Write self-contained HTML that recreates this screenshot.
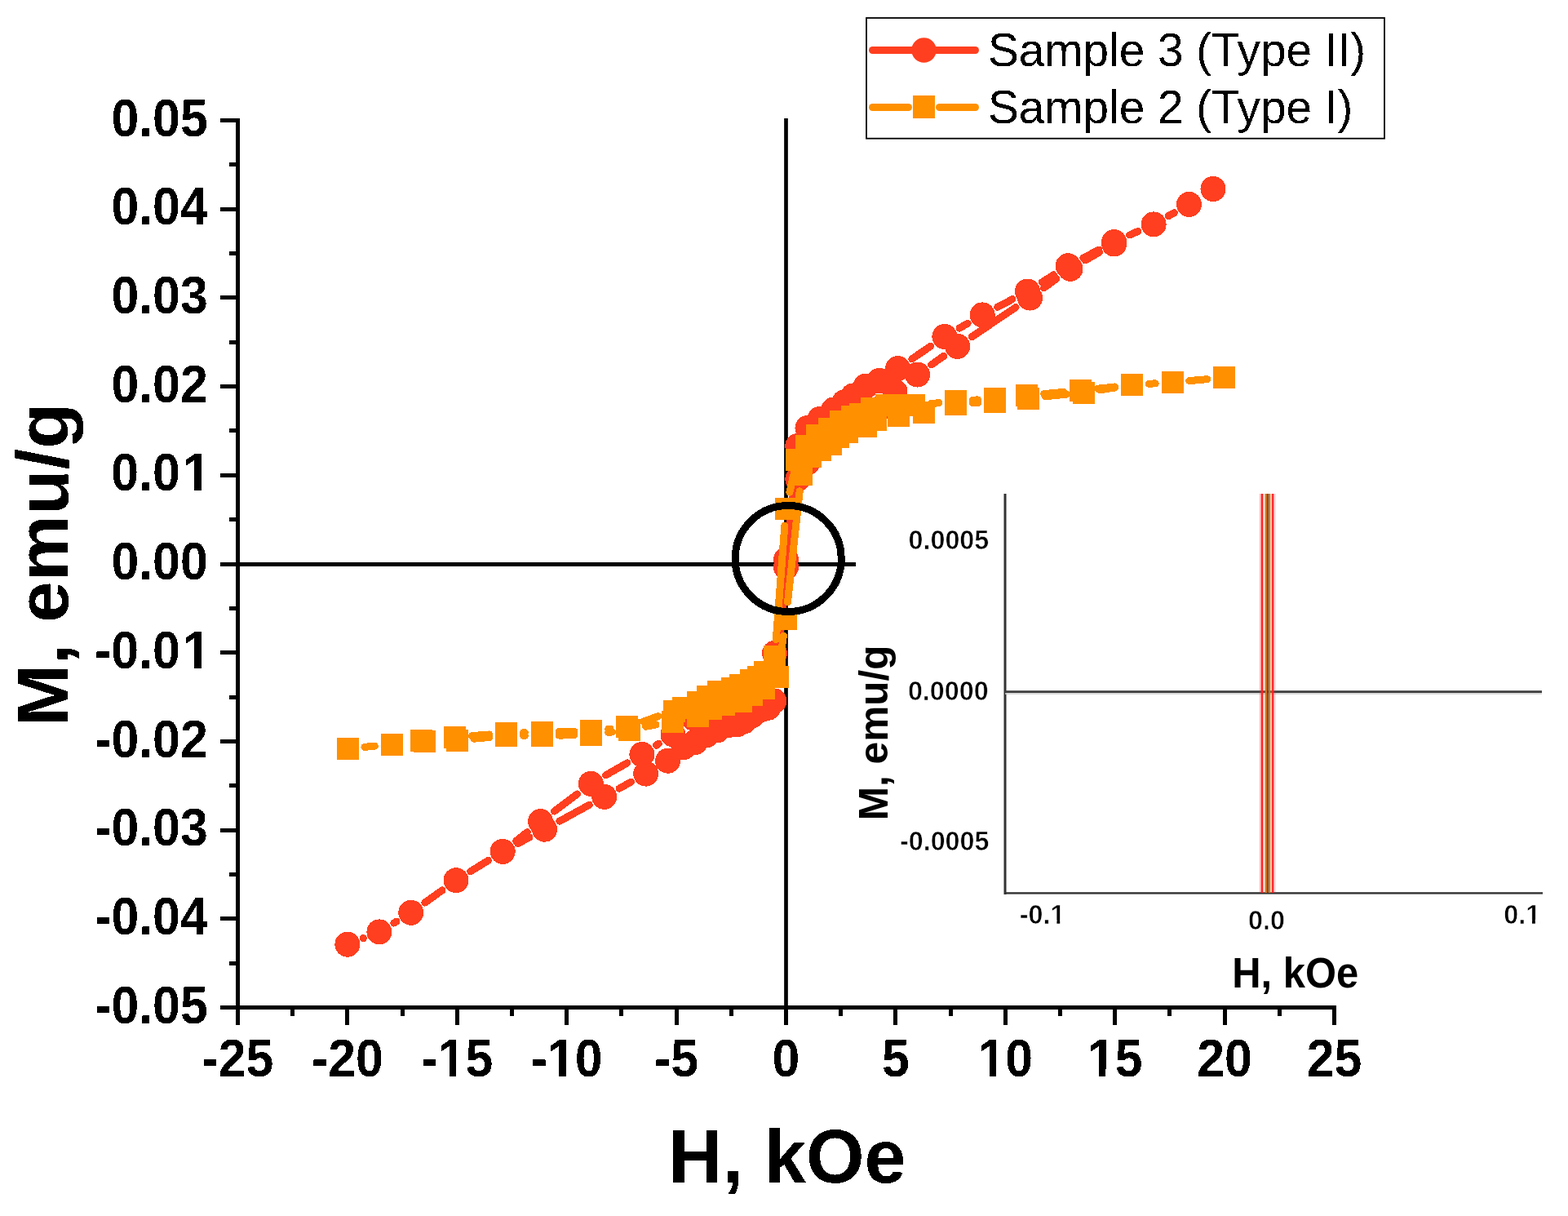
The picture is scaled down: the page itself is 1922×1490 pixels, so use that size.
<!DOCTYPE html><html><head><meta charset="utf-8"><style>html,body{margin:0;padding:0;background:#fff;}svg{display:block}text{font-family:"Liberation Sans",Arial,sans-serif}</style></head><body>
<svg width="1922" height="1490" viewBox="0 0 1922 1490">
<defs><filter id="bin" color-interpolation-filters="sRGB"><feComponentTransfer><feFuncA type="discrete" tableValues="0 1"/></feComponentTransfer></filter><filter id="soft"><feGaussianBlur stdDeviation="0.45"/></filter></defs>
<rect width="100%" height="100%" fill="#fff"/>
<g stroke="#000" stroke-width="5" fill="none" shape-rendering="crispEdges">
<line x1="291.5" y1="145" x2="291.5" y2="1237"/>
<line x1="289" y1="1234.5" x2="1638" y2="1234.5"/>
<line x1="270" y1="147.50" x2="291.5" y2="147.50"/>
<line x1="270" y1="256.20" x2="291.5" y2="256.20"/>
<line x1="270" y1="364.90" x2="291.5" y2="364.90"/>
<line x1="270" y1="473.60" x2="291.5" y2="473.60"/>
<line x1="270" y1="582.30" x2="291.5" y2="582.30"/>
<line x1="270" y1="691.00" x2="291.5" y2="691.00"/>
<line x1="270" y1="799.70" x2="291.5" y2="799.70"/>
<line x1="270" y1="908.40" x2="291.5" y2="908.40"/>
<line x1="270" y1="1017.10" x2="291.5" y2="1017.10"/>
<line x1="270" y1="1125.80" x2="291.5" y2="1125.80"/>
<line x1="270" y1="1234.50" x2="291.5" y2="1234.50"/>
<line x1="281" y1="201.85" x2="291.5" y2="201.85"/>
<line x1="281" y1="310.55" x2="291.5" y2="310.55"/>
<line x1="281" y1="419.25" x2="291.5" y2="419.25"/>
<line x1="281" y1="527.95" x2="291.5" y2="527.95"/>
<line x1="281" y1="636.65" x2="291.5" y2="636.65"/>
<line x1="281" y1="745.35" x2="291.5" y2="745.35"/>
<line x1="281" y1="854.05" x2="291.5" y2="854.05"/>
<line x1="281" y1="962.75" x2="291.5" y2="962.75"/>
<line x1="281" y1="1071.45" x2="291.5" y2="1071.45"/>
<line x1="281" y1="1180.15" x2="291.5" y2="1180.15"/>
<line x1="291.50" y1="1234.5" x2="291.50" y2="1256"/>
<line x1="425.90" y1="1234.5" x2="425.90" y2="1256"/>
<line x1="560.30" y1="1234.5" x2="560.30" y2="1256"/>
<line x1="694.70" y1="1234.5" x2="694.70" y2="1256"/>
<line x1="829.10" y1="1234.5" x2="829.10" y2="1256"/>
<line x1="963.50" y1="1234.5" x2="963.50" y2="1256"/>
<line x1="1097.90" y1="1234.5" x2="1097.90" y2="1256"/>
<line x1="1232.30" y1="1234.5" x2="1232.30" y2="1256"/>
<line x1="1366.70" y1="1234.5" x2="1366.70" y2="1256"/>
<line x1="1501.10" y1="1234.5" x2="1501.10" y2="1256"/>
<line x1="1635.50" y1="1234.5" x2="1635.50" y2="1256"/>
<line x1="358.70" y1="1234.5" x2="358.70" y2="1245"/>
<line x1="493.10" y1="1234.5" x2="493.10" y2="1245"/>
<line x1="627.50" y1="1234.5" x2="627.50" y2="1245"/>
<line x1="761.90" y1="1234.5" x2="761.90" y2="1245"/>
<line x1="896.30" y1="1234.5" x2="896.30" y2="1245"/>
<line x1="1030.70" y1="1234.5" x2="1030.70" y2="1245"/>
<line x1="1165.10" y1="1234.5" x2="1165.10" y2="1245"/>
<line x1="1299.50" y1="1234.5" x2="1299.50" y2="1245"/>
<line x1="1433.90" y1="1234.5" x2="1433.90" y2="1245"/>
<line x1="1568.30" y1="1234.5" x2="1568.30" y2="1245"/>
</g>
<line x1="291.5" y1="691.5" x2="1049" y2="691.5" stroke="#000" stroke-width="4.8"/>
<line x1="963.5" y1="145" x2="963.5" y2="1234" stroke="#000" stroke-width="4.7"/>
<g font-weight="bold" font-size="64" fill="#000" filter="url(#bin)">
<text id="t1" x="254.7" y="166.7" text-anchor="end" transform="translate(254.7 0) scale(0.95 1) translate(-254.7 0)">0.05</text>
<text id="t2" x="254.7" y="275.4" text-anchor="end" transform="translate(254.7 0) scale(0.95 1) translate(-254.7 0)">0.04</text>
<text id="t3" x="254.7" y="384.1" text-anchor="end" transform="translate(254.7 0) scale(0.95 1) translate(-254.7 0)">0.03</text>
<text id="t4" x="254.7" y="492.8" text-anchor="end" transform="translate(254.7 0) scale(0.95 1) translate(-254.7 0)">0.02</text>
<text id="t5" x="258.2" y="601.5" text-anchor="end" transform="translate(254.7 0) scale(0.95 1) translate(-254.7 0)">0.0<tspan dx="3.5">1</tspan></text><g fill="#fff" stroke="none" shape-rendering="crispEdges" transform="translate(254.7 0) scale(0.95 1) translate(-254.7 0)"><rect x="225.42" y="592.13" width="12.12" height="11.25"/><rect x="246.32" y="592.13" width="11.28" height="11.25"/></g>
<text id="t6" x="254.7" y="710.2" text-anchor="end" transform="translate(254.7 0) scale(0.95 1) translate(-254.7 0)">0.00</text>
<text id="t7" x="258.2" y="818.9" text-anchor="end" transform="translate(254.7 0) scale(0.95 1) translate(-254.7 0)">-0.0<tspan dx="3.5">1</tspan></text><g fill="#fff" stroke="none" shape-rendering="crispEdges" transform="translate(254.7 0) scale(0.95 1) translate(-254.7 0)"><rect x="225.42" y="809.53" width="12.12" height="11.25"/><rect x="246.32" y="809.53" width="11.28" height="11.25"/></g>
<text id="t8" x="254.7" y="927.6" text-anchor="end" transform="translate(254.7 0) scale(0.95 1) translate(-254.7 0)">-0.02</text>
<text id="t9" x="254.7" y="1036.3" text-anchor="end" transform="translate(254.7 0) scale(0.95 1) translate(-254.7 0)">-0.03</text>
<text id="t10" x="254.7" y="1145.0" text-anchor="end" transform="translate(254.7 0) scale(0.95 1) translate(-254.7 0)">-0.04</text>
<text id="t11" x="254.7" y="1253.7" text-anchor="end" transform="translate(254.7 0) scale(0.95 1) translate(-254.7 0)">-0.05</text>
<text id="t12" x="291.5" y="1319.3" text-anchor="middle" transform="translate(291.5 0) scale(0.95 1) translate(-291.5 0)">-25</text>
<text id="t13" x="425.9" y="1319.3" text-anchor="middle" transform="translate(425.9 0) scale(0.95 1) translate(-425.9 0)">-20</text>
<text id="t14" x="560.3" y="1319.3" text-anchor="middle" transform="translate(560.3 0) scale(0.95 1) translate(-560.3 0)">-15</text><g fill="#fff" stroke="none" shape-rendering="crispEdges" transform="translate(560.3 0) scale(0.95 1) translate(-560.3 0)"><rect x="538.18" y="1309.93" width="12.12" height="11.25"/><rect x="559.08" y="1309.93" width="11.28" height="11.25"/></g>
<text id="t15" x="694.7" y="1319.3" text-anchor="middle" transform="translate(694.7 0) scale(0.95 1) translate(-694.7 0)">-10</text><g fill="#fff" stroke="none" shape-rendering="crispEdges" transform="translate(694.7 0) scale(0.95 1) translate(-694.7 0)"><rect x="672.58" y="1309.93" width="12.12" height="11.25"/><rect x="693.48" y="1309.93" width="11.28" height="11.25"/></g>
<text id="t16" x="829.1" y="1319.3" text-anchor="middle" transform="translate(829.1 0) scale(0.95 1) translate(-829.1 0)">-5</text>
<text id="t17" x="963.5" y="1319.3" text-anchor="middle" transform="translate(963.5 0) scale(0.95 1) translate(-963.5 0)">0</text>
<text id="t18" x="1097.9" y="1319.3" text-anchor="middle" transform="translate(1097.9 0) scale(0.95 1) translate(-1097.9 0)">5</text>
<text id="t19" x="1232.3" y="1319.3" text-anchor="middle" transform="translate(1232.3 0) scale(0.95 1) translate(-1232.3 0)">10</text><g fill="#fff" stroke="none" shape-rendering="crispEdges" transform="translate(1232.3 0) scale(0.95 1) translate(-1232.3 0)"><rect x="1199.52" y="1309.93" width="12.12" height="11.25"/><rect x="1220.43" y="1309.93" width="11.28" height="11.25"/></g>
<text id="t20" x="1366.7" y="1319.3" text-anchor="middle" transform="translate(1366.7 0) scale(0.95 1) translate(-1366.7 0)">15</text><g fill="#fff" stroke="none" shape-rendering="crispEdges" transform="translate(1366.7 0) scale(0.95 1) translate(-1366.7 0)"><rect x="1333.92" y="1309.93" width="12.12" height="11.25"/><rect x="1354.83" y="1309.93" width="11.28" height="11.25"/></g>
<text id="t21" x="1501.1" y="1319.3" text-anchor="middle" transform="translate(1501.1 0) scale(0.95 1) translate(-1501.1 0)">20</text>
<text id="t22" x="1635.5" y="1319.3" text-anchor="middle" transform="translate(1635.5 0) scale(0.95 1) translate(-1635.5 0)">25</text>
</g>
<g filter="url(#bin)"><text x="965" y="1449" font-weight="bold" font-size="92" text-anchor="middle">H, kOe</text>
<text transform="translate(83.9 692) scale(0.97 1) rotate(-90)" x="0" y="0" font-weight="bold" font-size="91.4" text-anchor="middle">M, emu/g</text></g>
<rect x="1062" y="22" width="635" height="147.7" fill="#fff" stroke="#000" stroke-width="1.8"/>
<line x1="1069.5" y1="61.5" x2="1195.5" y2="61.5" stroke="#FF3F1F" stroke-width="9" stroke-linecap="round"/>
<circle cx="1132.5" cy="61.5" r="15.2" fill="#FF3F1F"/>
<line x1="1069.5" y1="131.5" x2="1113.5" y2="131.5" stroke="#FF9000" stroke-width="9" stroke-linecap="round"/>
<line x1="1151.5" y1="131.5" x2="1195.5" y2="131.5" stroke="#FF9000" stroke-width="9" stroke-linecap="round"/>
<rect x="1119" y="117" width="27" height="28" fill="#FF9000"/>
<g filter="url(#bin)"><text x="1211" y="80.5" font-size="56.7">Sample 3 (Type II)</text>
<text x="1211" y="150.8" font-size="56.7">Sample 2 (Type I)</text></g>
<g shape-rendering="crispEdges">
<path d="M1439.3 260.7L1432.3 264.6M1395.0 283.4L1384.7 288.0M1347.0 306.1L1327.8 316.1M1291.5 336.8L1277.2 345.9M1241.0 366.7L1222.7 376.2M1186.1 396.3L1176.0 402.1M1140.6 424.3L1117.8 439.8M975.7 567.3L965.6 664.8M961.0 706.3L952.0 779.6M807.4 911.3L804.5 913.2M768.8 934.9L742.4 949.9M707.6 972.9L679.3 994.1M646.2 1019.7L632.6 1030.4M598.4 1054.4L576.8 1067.7M542.0 1090.9L520.8 1106.1M485.9 1129.1L482.8 1131.1M445.4 1149.5L445.4 1149.6M445.4 1149.6L445.4 1149.5M482.8 1131.1L485.9 1129.1M520.8 1106.1L542.0 1090.9M576.8 1067.7L598.4 1054.4M634.7 1033.6L649.0 1026.0M685.9 1006.2L722.3 986.3M759.0 966.2L773.4 958.2M950.8 838.2L961.7 715.7M966.2 674.2L975.1 607.7M1141.6 447.0L1156.6 436.4M1191.1 412.8L1245.1 376.6M1279.5 352.8L1295.0 341.5M1330.2 319.0L1347.4 309.2" stroke="#FF3F1F" stroke-width="9" stroke-linecap="round" fill="none"/>
<g fill="#FF3F1F"><circle cx="1487" cy="231.5" r="15.5"/><circle cx="1457.5" cy="250.4" r="15.5"/><circle cx="1414.1" cy="274.9" r="15.5"/><circle cx="1365.6" cy="296.5" r="15.5"/><circle cx="1309.2" cy="325.7" r="15.5"/><circle cx="1259.5" cy="357" r="15.5"/><circle cx="1204.2" cy="385.9" r="15.5"/><circle cx="1157.9" cy="412.5" r="15.5"/><circle cx="1100.5" cy="451.6" r="15.5"/><circle cx="1078" cy="466.5" r="15.5"/><circle cx="1061" cy="473.3" r="15.5"/><circle cx="1046" cy="484.8" r="15.5"/><circle cx="1035" cy="492.8" r="15.5"/><circle cx="1022" cy="502" r="15.5"/><circle cx="1005" cy="513.5" r="15.5"/><circle cx="990" cy="524.5" r="15.5"/><circle cx="977.8" cy="546.5" r="15.5"/><circle cx="963.5" cy="685.6" r="15.5"/><circle cx="949.5" cy="800.3" r="15.5"/><circle cx="930" cy="832" r="15.5"/><circle cx="910" cy="843" r="15.5"/><circle cx="890" cy="856" r="15.5"/><circle cx="870" cy="868" r="15.5"/><circle cx="850" cy="880" r="15.5"/><circle cx="825" cy="900" r="15.5"/><circle cx="786.9" cy="924.5" r="15.5"/><circle cx="724.3" cy="960.3" r="15.5"/><circle cx="662.6" cy="1006.7" r="15.5"/><circle cx="616.2" cy="1043.4" r="15.5"/><circle cx="559" cy="1078.7" r="15.5"/><circle cx="503.8" cy="1118.3" r="15.5"/><circle cx="464.9" cy="1141.9" r="15.5"/><circle cx="425.9" cy="1157.2" r="15.5"/><circle cx="425.9" cy="1157.2" r="15.5"/><circle cx="464.9" cy="1141.9" r="15.5"/><circle cx="503.8" cy="1118.3" r="15.5"/><circle cx="559" cy="1078.7" r="15.5"/><circle cx="616.2" cy="1043.4" r="15.5"/><circle cx="667.5" cy="1016.2" r="15.5"/><circle cx="740.7" cy="976.3" r="15.5"/><circle cx="791.7" cy="948.1" r="15.5"/><circle cx="818.6" cy="932.2" r="15.5"/><circle cx="838" cy="915.5" r="15.5"/><circle cx="852" cy="909.5" r="15.5"/><circle cx="866" cy="901" r="15.5"/><circle cx="879" cy="895" r="15.5"/><circle cx="892" cy="889" r="15.5"/><circle cx="904" cy="887.5" r="15.5"/><circle cx="912" cy="884" r="15.5"/><circle cx="922" cy="877" r="15.5"/><circle cx="933" cy="869.5" r="15.5"/><circle cx="941.6" cy="867.2" r="15.5"/><circle cx="949" cy="859" r="15.5"/><circle cx="963.5" cy="694.9" r="15.5"/><circle cx="977.8" cy="587" r="15.5"/><circle cx="990" cy="567" r="15.5"/><circle cx="1005" cy="549" r="15.5"/><circle cx="1020" cy="536" r="15.5"/><circle cx="1040" cy="522" r="15.5"/><circle cx="1060" cy="512" r="15.5"/><circle cx="1080" cy="500" r="15.5"/><circle cx="1097" cy="480" r="15.5"/><circle cx="1124.5" cy="459" r="15.5"/><circle cx="1173.7" cy="424.4" r="15.5"/><circle cx="1262.5" cy="365" r="15.5"/><circle cx="1312" cy="329.3" r="15.5"/><circle cx="1365.6" cy="298.9" r="15.5"/></g>
<path d="M1479.8 464.7L1457.8 466.6M1416.1 469.8L1408.3 470.3M1366.6 474.0L1345.6 476.2M1304.0 480.4L1279.6 482.6M1198.6 489.9L1192.6 490.2M1150.9 493.7L1141.2 494.6M972.2 583.9L967.9 603.1M961.8 644.3L951.3 783.5M806.9 877.7L788.6 884.0M748.0 893.1L745.7 893.3M704.0 896.2L685.1 896.6M643.3 897.7L641.5 897.7M599.8 900.0L578.5 901.6M459.3 914.1L446.9 915.4M446.9 915.4L459.3 914.1M580.8 905.2L599.8 903.5M641.5 901.5L643.3 901.5M685.1 901.1L704.0 900.7M745.6 897.5L750.4 896.9M791.6 890.3L804.0 887.9M956.3 808.6L960.4 779.1M965.5 737.6L980.2 601.8M1192.6 494.0L1198.6 493.6M1281.2 485.8L1307.2 483.2M1348.6 477.8L1366.8 474.9M1408.3 470.3L1416.1 469.8M1457.8 466.6L1479.8 464.7" stroke="#FF9000" stroke-width="9" stroke-linecap="round" fill="none"/>
<g fill="#FF9000"><rect x="1487.1" y="449.4" width="27.0" height="27.0"/><rect x="1423.5" y="454.9" width="27.0" height="27.0"/><rect x="1373.9" y="458.2" width="27.0" height="27.0"/><rect x="1311.3" y="465.0" width="27.0" height="27.0"/><rect x="1245.3" y="471.0" width="27.0" height="27.0"/><rect x="1206.0" y="475.0" width="27.0" height="27.0"/><rect x="1158.2" y="478.1" width="27.0" height="27.0"/><rect x="1106.9" y="483.2" width="27.0" height="27.0"/><rect x="1086.5" y="483.2" width="27.0" height="27.0"/><rect x="1072.6" y="483.2" width="27.0" height="27.0"/><rect x="1055.1" y="486.5" width="27.0" height="27.0"/><rect x="1040.9" y="494.0" width="27.0" height="27.0"/><rect x="1030.8" y="497.0" width="27.0" height="27.0"/><rect x="1017.1" y="503.0" width="27.0" height="27.0"/><rect x="1003.0" y="512.0" width="27.0" height="27.0"/><rect x="987.9" y="519.8" width="27.0" height="27.0"/><rect x="975.1" y="532.9" width="27.0" height="27.0"/><rect x="963.2" y="550.0" width="27.0" height="27.0"/><rect x="949.9" y="610.0" width="27.0" height="27.0"/><rect x="936.2" y="790.8" width="27.0" height="27.0"/><rect x="924.2" y="810.3" width="27.0" height="27.0"/><rect x="916.1" y="816.3" width="27.0" height="27.0"/><rect x="907.2" y="819.5" width="27.0" height="27.0"/><rect x="894.1" y="825.9" width="27.0" height="27.0"/><rect x="884.3" y="830.0" width="27.0" height="27.0"/><rect x="867.3" y="833.9" width="27.0" height="27.0"/><rect x="854.2" y="840.0" width="27.0" height="27.0"/><rect x="842.1" y="847.0" width="27.0" height="27.0"/><rect x="824.1" y="854.4" width="27.0" height="27.0"/><rect x="813.2" y="857.5" width="27.0" height="27.0"/><rect x="755.3" y="877.2" width="27.0" height="27.0"/><rect x="711.4" y="882.2" width="27.0" height="27.0"/><rect x="650.7" y="883.6" width="27.0" height="27.0"/><rect x="607.1" y="884.8" width="27.0" height="27.0"/><rect x="544.2" y="889.8" width="27.0" height="27.0"/><rect x="503.0" y="893.9" width="27.0" height="27.0"/><rect x="466.6" y="898.5" width="27.0" height="27.0"/><rect x="412.6" y="904.0" width="27.0" height="27.0"/><rect x="412.6" y="904.0" width="27.0" height="27.0"/><rect x="466.6" y="898.5" width="27.0" height="27.0"/><rect x="507.0" y="895.3" width="27.0" height="27.0"/><rect x="546.5" y="893.7" width="27.0" height="27.0"/><rect x="607.1" y="888.0" width="27.0" height="27.0"/><rect x="650.7" y="888.0" width="27.0" height="27.0"/><rect x="711.4" y="886.8" width="27.0" height="27.0"/><rect x="757.6" y="880.6" width="27.0" height="27.0"/><rect x="811.0" y="870.6" width="27.0" height="27.0"/><rect x="842.0" y="863.7" width="27.0" height="27.0"/><rect x="857.7" y="855.4" width="27.0" height="27.0"/><rect x="874.1" y="850.3" width="27.0" height="27.0"/><rect x="894.6" y="846.0" width="27.0" height="27.0"/><rect x="908.0" y="837.6" width="27.0" height="27.0"/><rect x="923.0" y="830.0" width="27.0" height="27.0"/><rect x="939.9" y="815.8" width="27.0" height="27.0"/><rect x="949.8" y="744.9" width="27.0" height="27.0"/><rect x="968.9" y="567.5" width="27.0" height="27.0"/><rect x="980.0" y="546.0" width="27.0" height="27.0"/><rect x="992.0" y="538.0" width="27.0" height="27.0"/><rect x="1005.0" y="531.0" width="27.0" height="27.0"/><rect x="1013.9" y="521.7" width="27.0" height="27.0"/><rect x="1024.6" y="515.7" width="27.0" height="27.0"/><rect x="1048.0" y="508.7" width="27.0" height="27.0"/><rect x="1060.1" y="500.9" width="27.0" height="27.0"/><rect x="1087.8" y="496.0" width="27.0" height="27.0"/><rect x="1119.0" y="491.5" width="27.0" height="27.0"/><rect x="1158.2" y="481.8" width="27.0" height="27.0"/><rect x="1206.0" y="478.8" width="27.0" height="27.0"/><rect x="1246.9" y="474.5" width="27.0" height="27.0"/><rect x="1314.5" y="467.5" width="27.0" height="27.0"/><rect x="1373.9" y="458.2" width="27.0" height="27.0"/><rect x="1423.5" y="454.9" width="27.0" height="27.0"/><rect x="1487.1" y="449.4" width="27.0" height="27.0"/></g>
</g>
<circle cx="966.2" cy="684.5" r="65" fill="none" stroke="#000" stroke-width="9" shape-rendering="crispEdges"/>
<g>
<rect x="1230.5" y="605" width="3" height="491" fill="#333"/>
<rect x="1232" y="1093.2" width="659" height="2.4" fill="#333"/>
<rect x="1232" y="846.2" width="658" height="2.8" fill="#404040"/>
<rect x="1232" y="849.2" width="658" height="1.6" fill="#d0d0d0"/>
<rect x="1543.8" y="605" width="2.0" height="489" fill="#FF2025" fill-opacity="0.3"/>
<rect x="1545.8" y="605" width="2.5" height="489" fill="#FF2025" fill-opacity="1"/>
<rect x="1548.4" y="605" width="2.3" height="489" fill="#E07818" fill-opacity="0.18"/>
<rect x="1550.7" y="605" width="2.4" height="489" fill="#D97018" fill-opacity="1"/>
<rect x="1553.1" y="605" width="1.7" height="489" fill="#3A3D40" fill-opacity="1"/>
<rect x="1554.8" y="605" width="2.1" height="489" fill="#D07020" fill-opacity="1"/>
<rect x="1556.9" y="605" width="2.2" height="489" fill="#E88828" fill-opacity="0.45"/>
<rect x="1559.1" y="605" width="2.3" height="489" fill="#FF2025" fill-opacity="1"/>
<rect x="1561.4" y="605" width="2.4" height="489" fill="#FF2025" fill-opacity="0.18"/>
</g>
<g font-weight="bold" font-size="32.3" fill="#000" stroke="#fff" stroke-width="0.6">
<text x="1212.3" y="672.8" text-anchor="end">0.0005</text>
<text x="1211.7" y="857.9" text-anchor="end">0.0000</text>
<text x="1212.5" y="1041.6" text-anchor="end">-0.0005</text>
<text id="t23" x="1277.7" y="1132.2" text-anchor="middle">-0.1</text><g fill="#fff" stroke="none"><rect x="1288.98" y="1127.47" width="6.42" height="5.68"/><rect x="1299.23" y="1127.47" width="5.99" height="5.68"/></g>
<text x="1552.5" y="1139" text-anchor="middle">0.0</text>
<text id="t24" x="1865.7" y="1131.5" text-anchor="middle">0.1</text><g fill="#fff" stroke="none"><rect x="1871.59" y="1126.77" width="6.42" height="5.68"/><rect x="1881.84" y="1126.77" width="5.99" height="5.68"/></g>
</g>
<text x="0" y="1210.5" font-weight="bold" font-size="52" text-anchor="middle" transform="translate(1587.7 0) scale(0.94 1)">H, kOe</text>
<text transform="translate(1087.9 897.8) rotate(-90)" x="0" y="0" font-weight="bold" font-size="49.6" text-anchor="middle">M, emu/g</text>
</svg></body></html>
